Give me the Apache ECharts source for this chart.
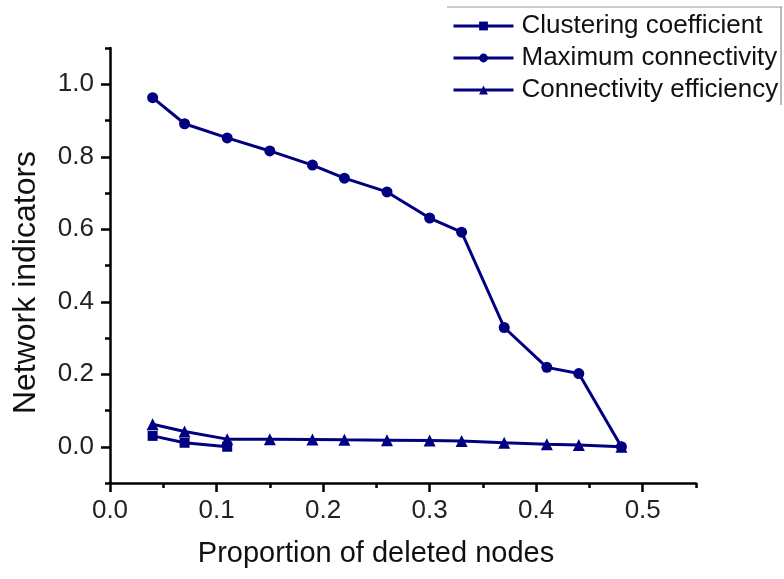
<!DOCTYPE html>
<html>
<head>
<meta charset="utf-8">
<script src="https://cdn.jsdelivr.net/npm/echarts@6/dist/echarts.min.js"></script>
<style>html,body{margin:0;padding:0;background:#fff;}#c{width:784px;height:579px;}</style>
</head>
<body>
<div id="c"></div>
<script>
var xValues = [0.04, 0.07, 0.11, 0.15, 0.19, 0.22, 0.26, 0.30, 0.33, 0.37, 0.41, 0.44, 0.48];
var clusteringX = [0.04, 0.07, 0.11];
var clustering = [0.030, 0.011, 0.000];
var maxConnectivity = [0.963, 0.891, 0.852, 0.816, 0.777, 0.741, 0.703, 0.631, 0.592, 0.329, 0.219, 0.202, 0.000];
var connEfficiency = [0.062, 0.042, 0.021, 0.021, 0.020, 0.019, 0.018, 0.017, 0.016, 0.011, 0.007, 0.005, 0.000];
var seriesNames = ['Clustering coefficient', 'Maximum connectivity', 'Connectivity efficiency'];
var xMajorTicks = [0, 0.1, 0.2, 0.3, 0.4, 0.5];
var xMinorTicks = [0.05, 0.15, 0.25, 0.35, 0.45, 0.55];
var yMajorTicks = [0, 0.2, 0.4, 0.6, 0.8, 1.0];
var yMinorTicks = [-0.1, 0.1, 0.3, 0.5, 0.7, 0.9, 1.1];

function pairs(xs, ys) { return ys.map(function (v, i) { return [xs[i], v]; }); }

var FONT = '"Liberation Sans", Arial, sans-serif';
var NAVY = '#000080';
var axisLineStyle = { color: '#000', width: 2.5 };

var chart = echarts.init(document.getElementById('c'), null, { renderer: 'canvas' });
chart.setOption({
  backgroundColor: '#fff',
  animation: false,
  grid: { left: 110, right: 88, top: 48, bottom: 96, containLabel: false },
  legend: {
    orient: 'vertical',
    left: 452, top: 13,
    itemWidth: 60, itemHeight: 11, itemGap: 6,
    padding: 0,
    lineStyle: { width: 3 },
    textStyle: { fontFamily: FONT, fontSize: 26, color: '#111', padding: [0, 0, 0, 3] },
    data: seriesNames
  },
  xAxis: [{
    type: 'value', min: 0, max: 0.55,
    name: 'Proportion of deleted nodes', nameLocation: 'middle', nameGap: 56,
    nameTextStyle: { fontFamily: FONT, fontSize: 29, color: '#111', padding: [0, 54, 0, 0] },
    axisLine: { show: true, onZero: false, lineStyle: axisLineStyle },
    axisTick: { show: true, inside: false, length: 9, lineStyle: { color: '#000', width: 2.5 }, customValues: xMajorTicks },
    axisLabel: { show: true, margin: 15, fontFamily: FONT, fontSize: 26, color: '#222', customValues: xMajorTicks,
      formatter: function (v) { return v.toFixed(1); } },
    splitLine: { show: false }
  }, {
    type: 'value', min: 0, max: 0.55, position: 'bottom',
    axisLine: { show: false, onZero: false },
    axisTick: { show: true, length: 5, lineStyle: { color: '#000', width: 2.5 }, customValues: xMinorTicks },
    axisLabel: { show: false },
    splitLine: { show: false }
  }],
  yAxis: [{
    type: 'value', min: -0.1, max: 1.1,
    name: 'Network indicators', nameLocation: 'middle', nameGap: 68,
    nameTextStyle: { fontFamily: FONT, fontSize: 32, color: '#111', padding: [0, 34, 0, 0] },
    axisLine: { show: true, onZero: false, lineStyle: axisLineStyle },
    axisTick: { show: true, length: 9, lineStyle: { color: '#000', width: 2.5 }, customValues: yMajorTicks },
    axisLabel: { show: true, margin: 16, fontFamily: FONT, fontSize: 26, color: '#222', customValues: yMajorTicks,
      formatter: function (v) { return v.toFixed(1); } },
    splitLine: { show: false }
  }, {
    type: 'value', min: -0.1, max: 1.1, position: 'left',
    axisLine: { show: false, onZero: false },
    axisTick: { show: true, length: 5, lineStyle: { color: '#000', width: 2.5 }, customValues: yMinorTicks },
    axisLabel: { show: false },
    splitLine: { show: false }
  }],
  series: [{
    name: seriesNames[0], type: 'line', data: pairs(clusteringX, clustering),
    symbol: 'rect', symbolSize: 10, showAllSymbol: true,
    lineStyle: { color: NAVY, width: 3 }, itemStyle: { color: NAVY }
  }, {
    name: seriesNames[1], type: 'line', data: pairs(xValues, maxConnectivity),
    symbol: 'circle', symbolSize: 11, showAllSymbol: true,
    lineStyle: { color: NAVY, width: 3 }, itemStyle: { color: NAVY }
  }, {
    name: seriesNames[2], type: 'line', data: pairs(xValues, connEfficiency),
    symbol: 'triangle', symbolSize: 12, showAllSymbol: true,
    lineStyle: { color: NAVY, width: 3 }, itemStyle: { color: NAVY }
  }],
  graphic: [
    { type: 'line', shape: { x1: 447, y1: 7, x2: 782, y2: 7 }, style: { stroke: '#999', lineWidth: 1 } },
    { type: 'line', shape: { x1: 781, y1: 7, x2: 781, y2: 105 }, style: { stroke: '#777', lineWidth: 1 } }
  ]
});
</script>
</body>
</html>
